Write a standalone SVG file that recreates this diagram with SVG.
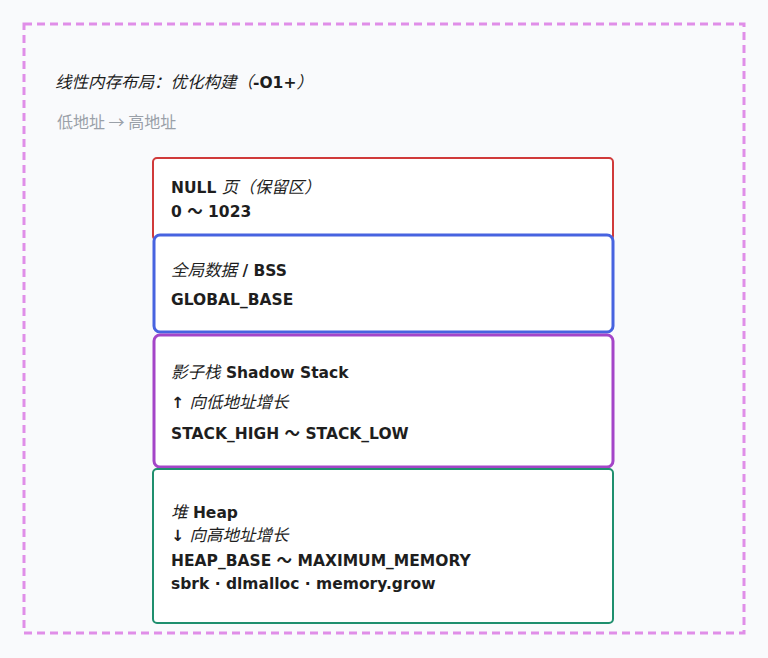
<svg xmlns="http://www.w3.org/2000/svg" width="768" height="658" viewBox="0 0 768 658">
<style>
.t{font-family:"DejaVu Sans","Noto Sans CJK SC",sans-serif;font-size:15.5px;fill:#1e1e1e;font-weight:700}
.c{font-family:"Noto Sans CJK SC",sans-serif;font-size:16.5px;font-style:italic;font-weight:400}
.sub{font-family:"Noto Sans CJK SC",sans-serif;font-size:16px;fill:#9aa0a8}
.box{fill:#ffffff}
</style>
<rect width="768" height="658" fill="#f9fafc"/>
<g id="frame">
<rect x="24" y="24" width="720" height="609" fill="none" stroke="#e08ee8" stroke-width="3" stroke-dasharray="8 5"/>
<text class="t" x="55" y="88"><tspan class="c">线性内存布局：优化构建（</tspan>-O1+<tspan class="c">）</tspan></text>
<text class="sub" x="57" y="128">低地址 → 高地址</text>
</g>
<g id="null-page">
<rect class="box" x="153" y="158" width="460" height="82" rx="4" stroke="#d03a3a" stroke-width="2"/>
<text class="t" x="171" y="193">NULL <tspan class="c">页（保留区）</tspan></text>
<text class="t" x="171" y="217">0 ～ 1023</text>
</g>
<g id="global-data">
<rect class="box" x="154" y="235" width="459" height="97" rx="6" stroke="#4763e0" stroke-width="3"/>
<text class="t" x="171" y="276"><tspan class="c">全局数据</tspan> / BSS</text>
<text class="t" x="171" y="305">GLOBAL_BASE</text>
</g>
<g id="shadow-stack">
<rect class="box" x="154" y="335" width="459" height="132" rx="6" stroke="#a445c8" stroke-width="3"/>
<text class="t" x="171" y="378"><tspan class="c">影子栈</tspan> Shadow Stack</text>
<text class="t" x="171" y="408">↑ <tspan class="c">向低地址增长</tspan></text>
<text class="t" x="171" y="439">STACK_HIGH ～ STACK_LOW</text>
</g>
<g id="heap">
<rect class="box" x="153" y="469" width="460" height="154" rx="4" stroke="#1f8f6e" stroke-width="2"/>
<text class="t" x="171" y="518"><tspan class="c">堆</tspan> Heap</text>
<text class="t" x="171" y="541">↓ <tspan class="c">向高地址增长</tspan></text>
<text class="t" x="171" y="566">HEAP_BASE ～ MAXIMUM_MEMORY</text>
<text class="t" x="171" y="589">sbrk · dlmalloc · memory.grow</text>
</g>
<g id="connectors"/>
</svg>
